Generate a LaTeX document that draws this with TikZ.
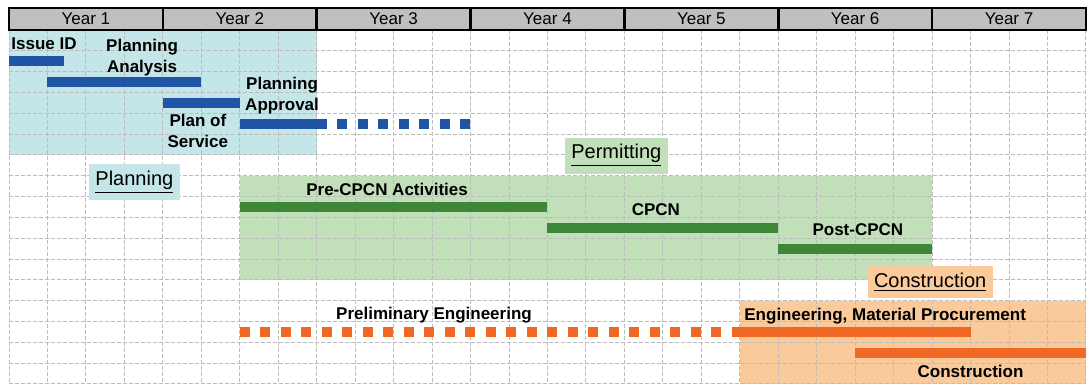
\documentclass[tikz,border=0pt]{standalone}
\usepackage{fontspec}
\setmainfont{Liberation Sans}
\begin{document}
\begin{tikzpicture}[x=19.23pt,y=-10.41pt,
    gridline/.style={draw=gridc, line width=0.5pt, dash pattern=on 2pt off 1pt},
    lbl/.style={font=\fontsize{8.5}{10.5}\selectfont\bfseries, align=center, inner sep=0pt},
    phase/.style={font=\fontsize{10}{12}\selectfont, inner xsep=3.2pt, minimum height=15pt}]
      % Color definitions
      \definecolor{hdr}{RGB}{191,191,191}       % header grey
      \definecolor{gridc}{RGB}{188,188,188}     % grid lines
      \definecolor{planfill}{RGB}{197,230,232}  % light cyan
      \definecolor{permfill}{RGB}{193,223,185}  % light green
      \definecolor{consfill}{RGB}{250,202,155}  % light orange
      \definecolor{planbar}{RGB}{31,84,166}
      \definecolor{permbar}{RGB}{62,135,56}
      \definecolor{consbar}{RGB}{241,104,36}

      % Helper macros  {colour}{start}{end}{row}
      \newcommand{\taskbar}[4]{%
        \draw[#1, line width=5pt] (#2,#4) -- (#3,#4);}
      \newcommand{\dotbar}[4]{%
        \draw[#1, line width=5pt, dash pattern=on 5pt off 5.25pt] (#2,#4) -- (#3,#4);}

      \useasboundingbox (-0.234,-1.441) rectangle (28.08,17.10);

      % Phase areas
      \fill[planfill] (0,0) rectangle (8,6);
      \fill[permfill] (6,7) rectangle (24,12);
      \fill[consfill] (19,13) rectangle (28,17);

      % Quarter grid
      \foreach \c in {0,...,28} {
        \draw[gridline] (\c,0) -- (\c,17);}
      \foreach \r in {1,...,17} {
        \draw[gridline] (0,\r) -- (28,\r);}

      % Year header
      \foreach \y in {1,...,7} {
        \draw[fill=hdr, line width=1.3pt] ({4*(\y-1)},-1.06) rectangle ({4*\y},0);
        \node[font=\fontsize{8.5}{10}\selectfont] (year\y) at ({4*\y-2},-0.53) {Year \y};}

      % Phase labels
      \node[phase, fill=planfill] (planning) at (3.26,7.3) {\underline{Planning}};
      \node[phase, fill=permfill] (permitting) at (15.79,6.03) {\underline{Permitting}};
      \node[phase, fill=consfill] (construction) at (23.95,12.1) {\underline{Construction}};

      % Planning tasks
      %        colour    start end  row
      \taskbar{planbar}{0}{1.43}{1.5}
      \taskbar{planbar}{1}{5}{2.5}
      \taskbar{planbar}{4}{6}{3.5}
      \taskbar{planbar}{6}{8}{4.5}
      \dotbar{planbar}{8}{12}{4.5}
      \node[lbl] (issue) at (0.91,0.67) {Issue ID};
      \node[lbl] (analysis) at (3.46,1.32) {Planning\\Analysis};
      \node[lbl] (approval) at (7.1,3.15) {Planning\\Approval};
      \node[lbl] (service) at (4.91,4.83) {Plan of\\Service};

      % Permitting tasks
      \taskbar{permbar}{6}{14}{8.5}
      \taskbar{permbar}{14}{20}{9.5}
      \taskbar{permbar}{20}{24}{10.5}
      \node[lbl] (precpcn) at (9.83,7.64) {Pre-CPCN Activities};
      \node[lbl] (cpcn) at (16.82,8.62) {CPCN};
      \node[lbl] (postcpcn) at (22.07,9.6) {Post-CPCN};

      % Construction tasks
      \dotbar{consbar}{6}{19}{14.5}
      \taskbar{consbar}{19}{25}{14.5}
      \taskbar{consbar}{22}{28}{15.5}
      \node[lbl] (prelim) at (11.05,13.7) {Preliminary Engineering};
      \node[lbl] (procure) at (22.78,13.76) {Engineering, Material Procurement};
      \node[lbl] (build) at (25.0,16.4) {Construction};
    \end{tikzpicture}
\end{document}
